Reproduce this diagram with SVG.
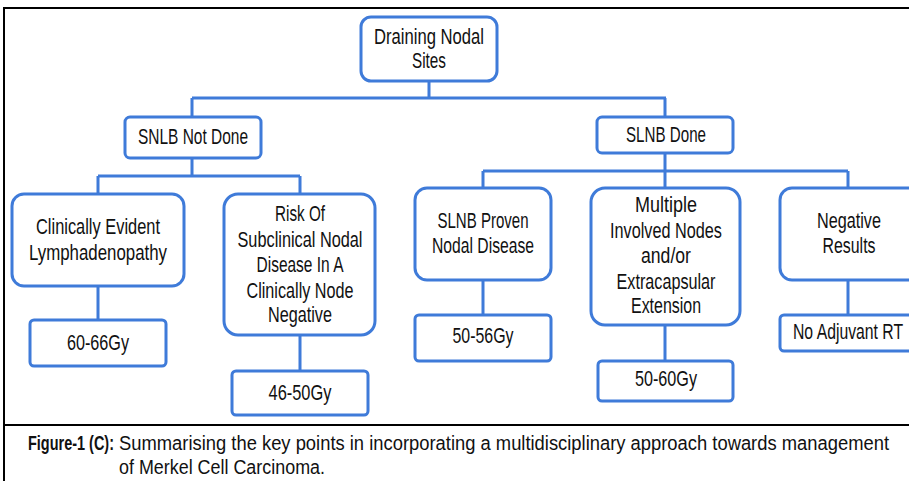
<svg xmlns="http://www.w3.org/2000/svg" width="909" height="481" viewBox="0 0 909 481">
<style>
.box{fill:#ffffff;stroke:#3f7bd9;stroke-width:3}
.con{fill:none;stroke:#3f7bd9;stroke-width:3}
.frame{fill:none;stroke:#000000;stroke-width:2}
.t{font-family:"Liberation Sans",Arial,sans-serif;font-size:22.5px;fill:#111111;text-anchor:middle}
.cap{font-family:"Liberation Sans",Arial,sans-serif;font-size:19.5px;fill:#111111}
.b{font-weight:bold}
</style>
<rect x="0" y="0" width="909" height="481" fill="#ffffff"/>
<g id="frame">
<path class="frame" d="M4,481 V8 H909"/>
<path class="frame" d="M4,425 H909"/>
</g>
<g id="connectors">
<path class="con" d="M429,81 V98 M192,98 H666 M192,98 V117 M665,98 V117"/>
<path class="con" d="M192,158 V176 M98,176 H300 M98,176 V194 M300,176 V194"/>
<path class="con" d="M665,153 V171 M483,171 H848 M483,171 V188 M665,171 V188 M848,171 V188"/>
<path class="con" d="M98,286 V320 M300,335 V371 M483,280 V315 M665,325 V361 M848,280 V315"/>
</g>
<g id="root">
<rect class="box" x="361" y="17" width="136" height="64" rx="10"/>
<text class="t" x="429" y="44" textLength="110" lengthAdjust="spacingAndGlyphs">Draining Nodal</text>
<text class="t" x="429" y="68" textLength="34" lengthAdjust="spacingAndGlyphs">Sites</text>
</g>
<g id="snlb-not-done">
<rect class="box" x="125" y="117" width="136" height="41" rx="5"/>
<text class="t" x="193" y="144" textLength="110" lengthAdjust="spacingAndGlyphs">SNLB Not Done</text>
</g>
<g id="slnb-done">
<rect class="box" x="597" y="117" width="136" height="36" rx="5"/>
<text class="t" x="666" y="142" textLength="80" lengthAdjust="spacingAndGlyphs">SLNB Done</text>
</g>
<g id="clinically-evident">
<rect class="box" x="12" y="194" width="172" height="92" rx="12"/>
<text class="t" x="98" y="234" textLength="124" lengthAdjust="spacingAndGlyphs">Clinically Evident</text>
<text class="t" x="98" y="260" textLength="138" lengthAdjust="spacingAndGlyphs">Lymphadenopathy</text>
</g>
<g id="risk-subclinical">
<rect class="box" x="224" y="194" width="151" height="141" rx="14"/>
<text class="t" x="300" y="221" textLength="50" lengthAdjust="spacingAndGlyphs">Risk Of</text>
<text class="t" x="300" y="247" textLength="125" lengthAdjust="spacingAndGlyphs">Subclinical Nodal</text>
<text class="t" x="300" y="272" textLength="87" lengthAdjust="spacingAndGlyphs">Disease In A</text>
<text class="t" x="300" y="298" textLength="107" lengthAdjust="spacingAndGlyphs">Clinically Node</text>
<text class="t" x="300" y="322" textLength="64" lengthAdjust="spacingAndGlyphs">Negative</text>
</g>
<g id="dose-60-66">
<rect class="box" x="30" y="320" width="136" height="46" rx="4"/>
<text class="t" x="98" y="350" textLength="62" lengthAdjust="spacingAndGlyphs">60-66Gy</text>
</g>
<g id="dose-46-50">
<rect class="box" x="232" y="371" width="136" height="44" rx="4"/>
<text class="t" x="300" y="400" textLength="63" lengthAdjust="spacingAndGlyphs">46-50Gy</text>
</g>
<g id="slnb-proven">
<rect class="box" x="415" y="188" width="136" height="92" rx="12"/>
<text class="t" x="483" y="228" textLength="91" lengthAdjust="spacingAndGlyphs">SLNB Proven</text>
<text class="t" x="483" y="253" textLength="102" lengthAdjust="spacingAndGlyphs">Nodal Disease</text>
</g>
<g id="dose-50-56">
<rect class="box" x="415" y="315" width="136" height="46" rx="4"/>
<text class="t" x="483" y="343" textLength="61" lengthAdjust="spacingAndGlyphs">50-56Gy</text>
</g>
<g id="multiple-nodes">
<rect class="box" x="591" y="188" width="149" height="137" rx="14"/>
<text class="t" x="666" y="212" textLength="62" lengthAdjust="spacingAndGlyphs">Multiple</text>
<text class="t" x="666" y="238" textLength="112" lengthAdjust="spacingAndGlyphs">Involved Nodes</text>
<text class="t" x="666" y="263" textLength="50" lengthAdjust="spacingAndGlyphs">and/or</text>
<text class="t" x="666" y="289" textLength="99" lengthAdjust="spacingAndGlyphs">Extracapsular</text>
<text class="t" x="666" y="313" textLength="70" lengthAdjust="spacingAndGlyphs">Extension</text>
</g>
<g id="dose-50-60">
<rect class="box" x="598" y="361" width="135" height="40" rx="4"/>
<text class="t" x="666" y="386" textLength="62" lengthAdjust="spacingAndGlyphs">50-60Gy</text>
</g>
<g id="negative-results">
<rect class="box" x="780" y="188" width="150" height="92" rx="12"/>
<text class="t" x="849" y="228" textLength="64" lengthAdjust="spacingAndGlyphs">Negative</text>
<text class="t" x="849" y="253" textLength="53" lengthAdjust="spacingAndGlyphs">Results</text>
</g>
<g id="no-adjuvant">
<rect class="box" x="780" y="315" width="150" height="36" rx="4"/>
<text class="t" x="848" y="339" textLength="110" lengthAdjust="spacingAndGlyphs">No Adjuvant RT</text>
</g>
<g id="caption">
<text class="cap b" x="28" y="450" textLength="86" lengthAdjust="spacingAndGlyphs">Figure-1 (C):</text>
<text class="cap" x="119" y="450" textLength="770" lengthAdjust="spacingAndGlyphs">Summarising the key points in incorporating a multidisciplinary approach towards management</text>
<text class="cap" x="119" y="474" textLength="206" lengthAdjust="spacingAndGlyphs">of Merkel Cell Carcinoma.</text>
</g>
</svg>
